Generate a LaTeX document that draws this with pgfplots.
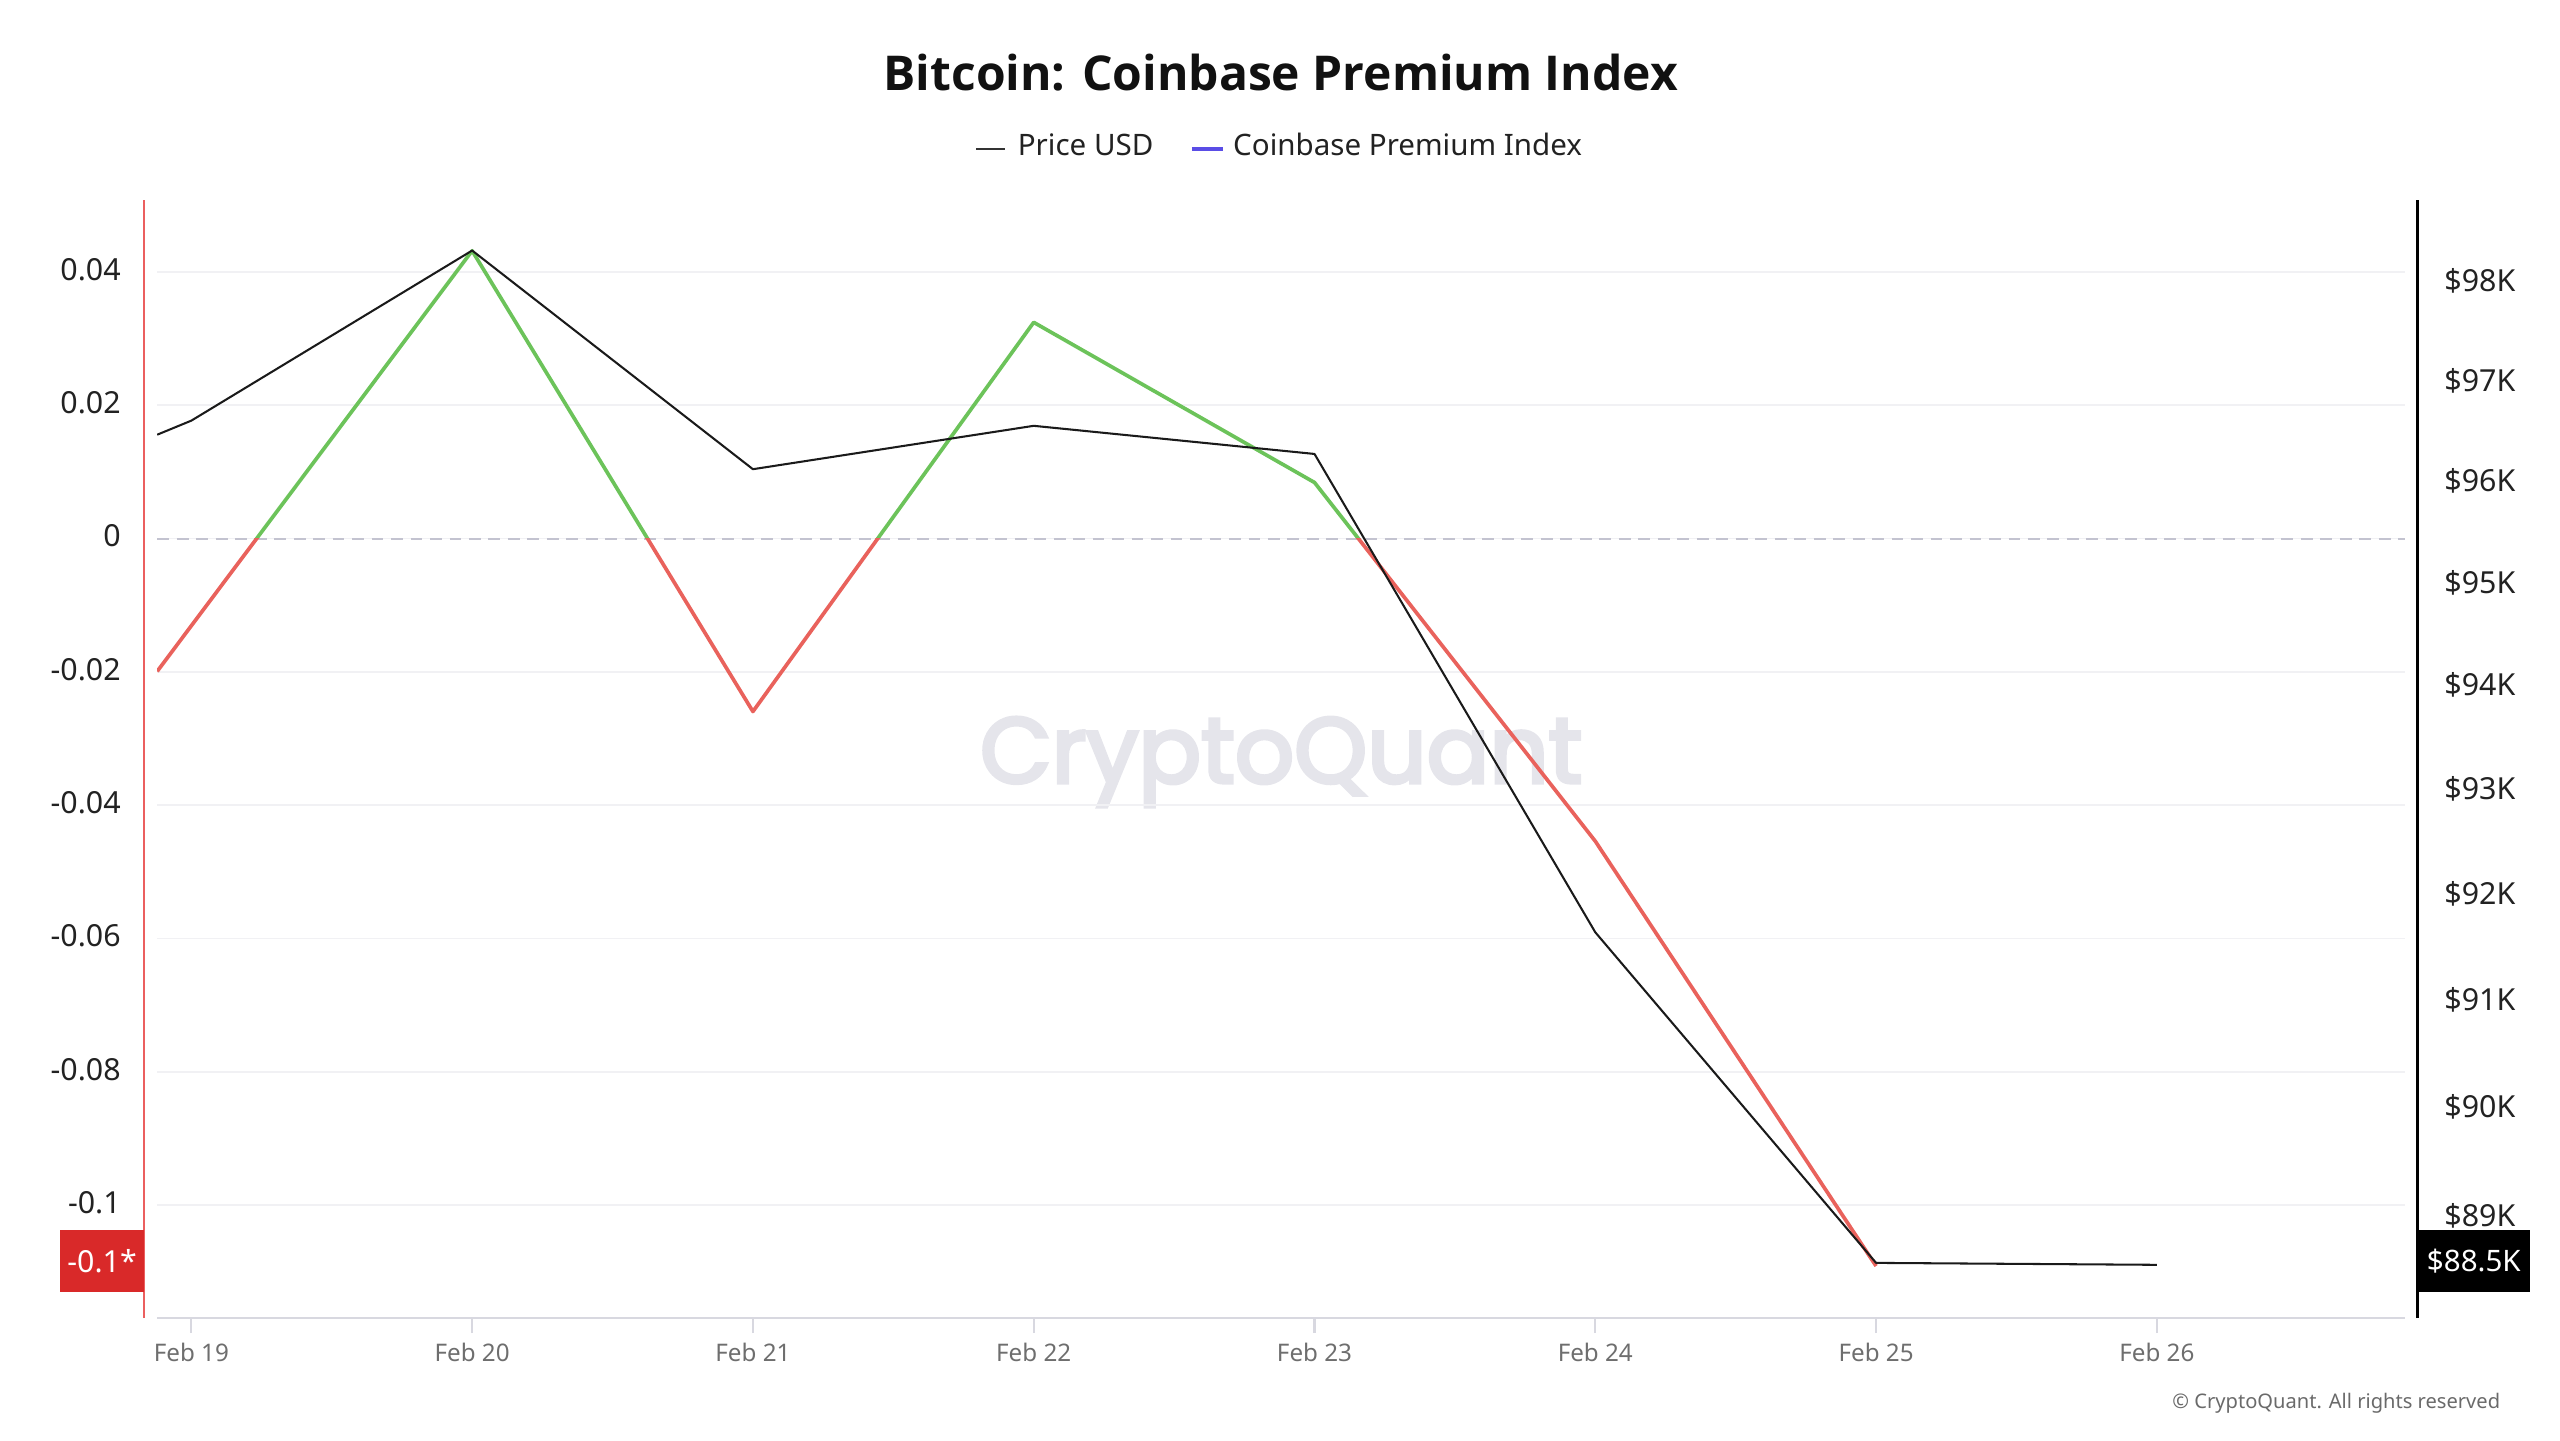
\documentclass[border=0pt]{standalone}
\usepackage{fontspec}
\setmainfont{Noto Sans}
\newfontfamily\wmfont{Poppins}[FakeBold=4]
\newfontfamily\titlefont{Open Sans}
\usepackage{pgfplots}
\usepackage{pgfplotstable}
\pgfplotsset{compat=1.18}
\definecolor{gridgray}{HTML}{F1F1F4}
\definecolor{linegray}{HTML}{D8D8E0}
\definecolor{zerodash}{HTML}{C3C3D0}
\definecolor{greenline}{HTML}{6CC35A}
\definecolor{redline}{HTML}{E9625C}
\definecolor{axisred}{HTML}{EB5F5F}
\definecolor{boxred}{HTML}{D92929}
\definecolor{legblue}{HTML}{5A4DE6}
\definecolor{pricec}{HTML}{1A1A1A}
\definecolor{legprice}{HTML}{333333}
\definecolor{ylab}{HTML}{222222}
\definecolor{xlab}{HTML}{6E6E6E}
\definecolor{wm}{HTML}{E5E5EB}
\definecolor{copyc}{HTML}{6A6A6A}
\definecolor{titlec}{HTML}{111111}
\pgfplotstableread{
x y
-0.1216 -0.01992
1 0.04319
2 -0.02595
3 0.03245
4 0.00842
5 -0.04541
6 -0.10916
}\premium
\pgfplotstableread{
x p
-0.1216 96.46
0 96.60
1 98.31
2 96.12
3 96.55
4 96.27
5 91.64
6 88.57
7 88.55
}\price
\begin{document}
\begin{tikzpicture}
\path[use as bounding box] (0,0) rectangle (624pt,351pt);
% watermark
\node[anchor=base, inner sep=0pt, text=wm, font=\wmfont\fontsize{22.6}{24}\selectfont] at (312.3pt,160.2pt) {CryptoQuant};
% left axis: Coinbase Premium Index
\begin{axis}[
  name=main, at={(38.32pt,29.68pt)}, anchor=south west, scale only axis,
  width=547.92pt, height=272.52pt,
  xmin=-0.1216, xmax=7.884, ymin=-0.11699, ymax=0.05078,
  axis x line*=bottom, axis y line*=left,
  x axis line style={draw=linegray, line width=0.5pt, -},
  y axis line style={draw=none},
  xtick={0,1,2,3,4,5,6,7},
  xticklabels={Feb 19,Feb 20,Feb 21,Feb 22,Feb 23,Feb 24,Feb 25,Feb 26},
  tick align=outside, major tick length=3.6pt,
  xtick style={draw=linegray, line width=0.5pt},
  ytick style={draw=none},
  ytick={-0.1,-0.08,-0.06,-0.04,-0.02,0,0.02,0.04},
  yticklabels={-0.1,-0.08,-0.06,-0.04,-0.02,0,0.02,0.04},
  ymajorgrids, grid style={draw=gridgray, line width=0.4pt},
  xticklabel style={font=\fontsize{5.9}{7}\selectfont, text=xlab, anchor=base, inner sep=0pt, yshift=-6.9pt},
  yticklabel style={font=\fontsize{7.4}{9}\selectfont, text=ylab, anchor=east, inner sep=0pt, xshift=-5.1pt, yshift=0.6pt},
]
\addplot[zerodash, line width=0.5pt, dash pattern=on 2.9pt off 1.85pt, forget plot] coordinates {(-0.1216,0) (7.884,0)};
\begin{scope}
\clip (axis cs:-1,0) rectangle (axis cs:9,1);
\addplot[greenline, line width=0.9pt, line join=round, forget plot] table[x=x,y=y] {\premium};
\end{scope}
\begin{scope}
\clip (axis cs:-1,-1) rectangle (axis cs:9,0);
\addplot[redline, line width=0.9pt, line join=round, forget plot] table[x=x,y=y] {\premium};
\end{scope}
\end{axis}
% right axis: Price USD (log scale, in thousands)
\begin{axis}[
  at={(38.32pt,29.68pt)}, anchor=south west, scale only axis,
  width=547.92pt, height=272.52pt,
  xmin=-0.1216, xmax=7.884, ymode=log, ymin=88.07, ymax=98.825,
  axis x line=none, axis y line*=right,
  y axis line style={draw=none},
  ytick={89,90,91,92,93,94,95,96,97,98},
  yticklabels={\$89K,\$90K,\$91K,\$92K,\$93K,\$94K,\$95K,\$96K,\$97K,\$98K},
  ytick style={draw=none}, yminorticks=false,
  yticklabel style={font=\fontsize{7.4}{9}\selectfont, text=ylab, anchor=west, inner sep=0pt, xshift=9.4pt},
]
\addplot[pricec, line width=0.5pt, line join=round, forget plot] table[x=x,y=p] {\price};
\end{axis}
% axis lines offset from plot area
\draw[axisred, line width=0.6pt] ([xshift=-3.28pt]main.south west) -- ([xshift=-3.28pt]main.north west);
\draw[black, line width=0.7pt] ([xshift=2.96pt]main.south east) -- ([xshift=2.96pt]main.north east);
% last-value boxes
\node[fill=boxred, text=white, minimum width=20.64pt, minimum height=15.12pt, inner sep=0pt, font=\fontsize{7.4}{9}\selectfont] at (24.88pt,43.6pt) {-0.1*};
\node[fill=black, text=white, minimum width=27.2pt, minimum height=15.12pt, inner sep=0pt, font=\fontsize{7.2}{9}\selectfont] at (603pt,43.6pt) {\$88.5K};
% title
\node[anchor=base, inner sep=0pt, font=\titlefont\bfseries\fontsize{11.7}{14}\selectfont, text=titlec] at (312.2pt,329pt) {Bitcoin: Coinbase Premium Index};
% legend
\draw[legprice, line width=0.4pt] (237.9pt,314.7pt) -- (245pt,314.7pt);
\node[anchor=base west, inner sep=0pt, font=\fontsize{7.2}{9}\selectfont, text=ylab] at (247.9pt,313.1pt) {Price USD};
\draw[legblue, line width=0.9pt] (290.5pt,314.7pt) -- (298.1pt,314.7pt);
\node[anchor=base west, inner sep=0pt, font=\fontsize{7.2}{9}\selectfont, text=ylab] at (300.4pt,313.1pt) {Coinbase Premium Index};
% copyright
\node[anchor=base east, inner sep=0pt, font=\fontsize{4.9}{6}\selectfont, text=copyc] at (609.6pt,7.6pt) {© CryptoQuant. All rights reserved};
\end{tikzpicture}
\end{document}
